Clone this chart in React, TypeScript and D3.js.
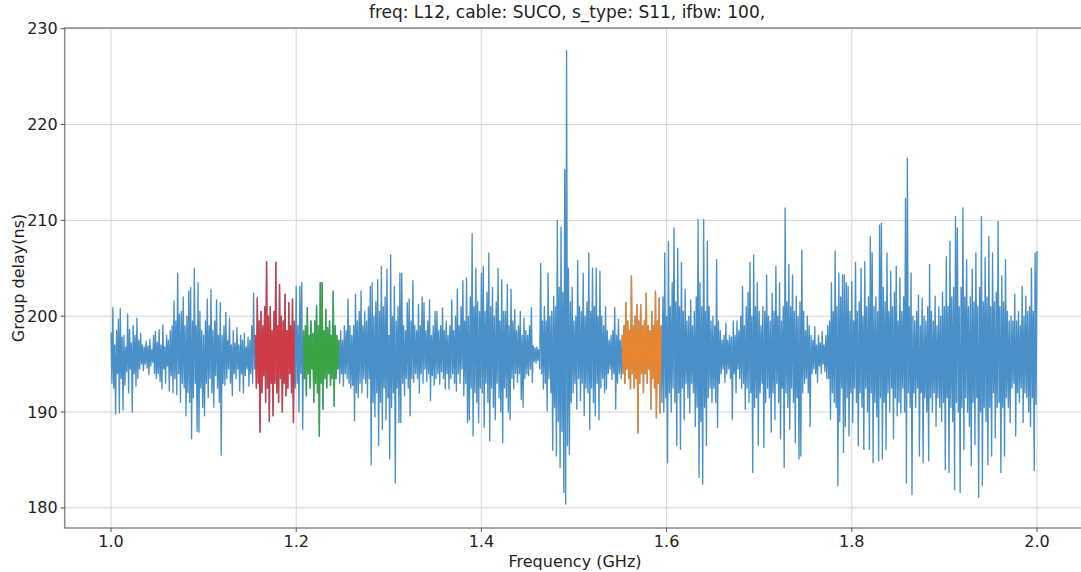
import React from "react";
import * as d3 from "d3";

// Sweep definition: 1001 points from 1.0 to 2.0 GHz
const sweepStartGHz = 1.0;
const sweepStepGHz = 0.001;

// Group delay (ns) per sweep point, split by frequency span
// 1.000 - 1.249 GHz
const delaySpanA: number[] = [
  198.3, 193.0, 200.9, 192.5, 197.0, 189.8, 198.5, 194.0, 199.7, 189.9, 200.8, 193.5, 197.8, 190.2, 198.0, 192.8, 196.8, 194.2, 200.2, 192.0, 198.6, 194.5, 197.2, 190.0, 199.0,
  194.0, 198.0, 192.7, 199.8, 193.5, 197.5, 194.5, 198.2, 195.0, 197.0, 194.3, 196.8, 195.0, 197.4, 194.6, 196.9, 193.9, 197.6, 194.8, 196.5, 195.2, 198.0, 194.0, 198.4, 193.5,
  197.3, 194.0, 198.6, 193.2, 197.0, 192.4, 199.1, 194.5, 196.8, 193.0, 198.0, 194.8, 197.5, 192.2, 198.5, 193.8, 199.0, 192.0, 201.6, 193.5, 199.5, 191.8, 204.5, 194.0, 200.2,
  191.0, 200.5, 193.0, 202.0, 192.5, 199.0, 189.6, 200.0, 192.0, 202.6, 191.0, 203.0, 187.2, 199.5, 191.5, 205.0, 193.0, 199.0, 188.0, 203.5, 187.9, 200.5, 192.5, 198.5, 190.5,
  198.0, 189.6, 199.5, 193.0, 201.8, 191.5, 199.0, 193.5, 202.8, 192.0, 198.5, 190.5, 199.5, 193.8, 201.7, 192.5, 198.0, 191.0, 201.4, 185.5, 198.0, 193.0, 199.0, 192.8, 200.4,
  193.5, 197.5, 194.5, 199.8, 193.0, 197.0, 191.7, 198.5, 194.0, 197.2, 193.5, 198.8, 194.5, 197.0, 192.2, 198.0, 194.0, 197.5, 192.0, 198.2, 193.8, 196.8, 194.5, 197.8, 192.7,
  197.5, 194.0, 199.0, 193.0, 202.4, 194.5, 198.0, 192.5, 201.9, 193.0, 199.5, 187.9, 200.5, 192.0, 199.0, 193.8, 201.0, 191.0, 205.7, 192.5, 200.0, 189.0, 201.0, 193.0, 198.5,
  189.6, 200.5, 193.0, 205.6, 192.0, 199.0, 191.0, 203.3, 193.5, 200.0, 190.0, 199.5, 193.0, 202.3, 191.7, 198.5, 192.5, 201.4, 194.0, 199.0, 192.0, 201.8, 188.9, 199.5, 192.5,
  203.1, 193.0, 199.0, 190.0, 203.1, 194.0, 203.5, 188.2, 198.5, 193.5, 199.0, 191.7, 200.9, 194.0, 198.0, 192.5, 199.5, 194.5, 198.2, 191.0, 199.5, 193.0, 201.1, 192.0, 199.0,
  187.5, 203.5, 193.0, 203.5, 190.3, 198.5, 193.5, 200.7, 192.5, 198.8, 194.0, 199.5, 192.8, 198.0, 193.5, 202.6, 190.6, 199.0, 193.5, 198.0, 194.5, 197.5, 193.0, 198.5, 194.0,
];
// 1.250 - 1.499 GHz
const delaySpanB: number[] = [
  197.5, 192.7, 199.0, 194.0, 198.5, 193.5, 201.8, 193.0, 199.0, 192.5, 198.0, 192.8, 199.0, 189.1, 202.3, 192.0, 199.5, 191.5, 200.5, 193.0, 202.6, 192.0, 199.0, 193.5, 200.5,
  193.0, 199.5, 191.5, 201.0, 193.5, 203.1, 184.5, 203.5, 191.0, 200.0, 189.5, 201.5, 192.0, 203.8, 186.5, 200.5, 191.0, 205.2, 188.2, 201.0, 192.5, 202.0, 189.2, 204.9, 191.5,
  198.0, 185.1, 206.4, 190.5, 200.0, 192.0, 203.1, 182.6, 199.5, 192.5, 201.0, 188.9, 204.5, 188.9, 204.5, 193.0, 199.0, 191.7, 198.5, 193.5, 201.4, 192.5, 201.8, 189.6, 199.5,
  193.5, 203.7, 193.1, 199.0, 194.0, 198.5, 193.5, 201.2, 192.0, 199.0, 194.0, 202.0, 193.0, 201.4, 194.5, 198.5, 193.2, 199.5, 194.0, 201.7, 191.2, 198.0, 193.8, 199.0, 192.8,
  200.5, 193.5, 200.5, 194.0, 198.5, 192.9, 199.0, 194.2, 200.9, 193.5, 198.5, 192.4, 199.5, 194.0, 198.0, 192.4, 199.0, 193.5, 201.7, 194.0, 198.5, 193.0, 200.0, 192.2, 202.8,
  194.0, 199.0, 193.0, 201.0, 194.5, 203.7, 191.7, 199.5, 193.0, 204.0, 188.9, 200.0, 189.2, 202.0, 192.5, 208.6, 187.5, 201.0, 192.0, 205.0, 191.0, 201.5, 188.9, 200.5, 192.5,
  204.5, 192.0, 205.2, 188.4, 200.5, 193.0, 202.5, 191.0, 206.6, 187.0, 201.0, 192.5, 203.0, 190.5, 200.0, 189.2, 201.5, 193.0, 205.0, 191.5, 199.5, 190.0, 203.8, 186.8, 200.5,
  192.5, 200.5, 191.5, 203.3, 190.0, 199.0, 189.2, 202.8, 193.5, 199.5, 192.4, 200.7, 194.0, 198.5, 193.1, 199.0, 194.0, 200.5, 191.3, 198.0, 190.5, 199.8, 193.5, 198.5, 194.0,
  198.0, 193.8, 199.0, 194.5, 200.9, 193.1, 196.9, 195.3, 196.7, 195.1, 196.8, 195.4, 196.5, 194.5, 205.5, 194.0, 199.5, 192.4, 201.0, 193.0, 199.5, 190.1, 204.5, 193.5, 200.0,
  192.0, 200.5, 186.0, 202.1, 190.5, 201.0, 185.4, 210.0, 189.0, 203.0, 184.2, 209.3, 188.0, 202.5, 181.6, 215.3, 180.4, 227.7, 186.5, 205.0, 185.6, 201.5, 191.0, 203.0, 192.0,
];
// 1.500 - 1.749 GHz
const delaySpanC: number[] = [
  199.5, 193.0, 200.0, 190.3, 205.8, 193.5, 201.0, 191.2, 200.5, 193.0, 204.5, 189.6, 200.0, 192.5, 201.5, 192.0, 206.6, 188.2, 200.5, 192.5, 205.0, 191.0, 201.0, 189.6, 205.0,
  193.0, 200.0, 189.2, 204.7, 192.5, 200.0, 193.5, 199.0, 192.0, 201.0, 192.4, 198.5, 194.0, 197.5, 194.5, 198.0, 193.4, 198.5, 194.0, 200.9, 190.3, 198.0, 193.0, 199.7, 194.0,
  197.5, 193.5, 198.0, 194.0, 199.0, 193.0, 201.4, 194.5, 199.5, 193.5, 198.5, 192.4, 204.2, 194.0, 199.0, 192.5, 200.0, 193.5, 201.2, 187.8, 199.5, 193.0, 201.2, 194.0, 199.0,
  192.0, 199.5, 194.0, 202.4, 193.0, 199.0, 194.5, 198.5, 190.3, 200.5, 193.5, 199.0, 192.5, 202.6, 189.4, 199.5, 193.0, 201.9, 189.9, 199.0, 191.0, 202.0, 190.0, 206.6, 191.5,
  200.0, 184.7, 207.8, 192.0, 201.0, 190.0, 203.5, 192.5, 209.2, 191.0, 201.5, 186.5, 207.1, 192.0, 201.0, 186.1, 205.6, 192.5, 200.5, 189.2, 202.8, 193.0, 199.5, 191.5, 200.0,
  189.9, 201.7, 193.0, 199.0, 192.0, 200.5, 188.5, 202.0, 190.5, 210.1, 183.2, 203.5, 189.0, 201.0, 182.5, 210.1, 190.5, 200.5, 186.5, 207.8, 191.5, 201.0, 192.5, 199.5, 191.0,
  200.0, 192.5, 199.0, 191.0, 205.9, 188.4, 199.5, 193.0, 198.5, 194.0, 197.5, 194.5, 198.0, 193.1, 199.3, 194.0, 197.5, 194.5, 198.0, 193.5, 197.8, 189.2, 199.5, 194.0, 198.0,
  192.0, 199.5, 194.5, 198.5, 193.5, 200.0, 192.5, 203.1, 193.0, 199.0, 190.3, 201.0, 192.5, 202.5, 191.0, 205.6, 192.0, 200.0, 183.7, 206.4, 190.5, 201.0, 191.5, 203.5, 186.5,
  200.5, 192.0, 199.0, 193.0, 201.0, 186.3, 200.5, 191.0, 204.3, 192.5, 200.0, 191.5, 199.5, 187.9, 202.4, 192.0, 200.5, 189.2, 205.2, 193.0, 200.0, 191.0, 203.5, 187.2, 199.5,
  192.5, 201.0, 184.2, 211.3, 192.0, 201.5, 190.5, 205.4, 188.2, 201.0, 192.5, 204.3, 191.0, 200.5, 186.8, 202.1, 191.5, 200.0, 185.1, 201.5, 185.4, 206.9, 192.0, 200.5, 193.0,
];
// 1.750 - 2.000 GHz
const delaySpanD: number[] = [
  198.5, 193.5, 200.0, 192.0, 199.0, 188.5, 198.0, 194.0, 197.5, 194.5, 198.9, 194.0, 197.0, 193.1, 198.0, 194.8, 197.2, 194.0, 198.4, 195.0, 197.0, 194.2, 198.0, 193.5, 199.0,
  193.5, 199.5, 189.2, 203.5, 192.0, 200.5, 191.0, 206.8, 190.5, 201.0, 182.3, 204.5, 189.0, 202.0, 192.5, 204.3, 185.8, 204.3, 188.5, 203.5, 191.5, 203.1, 187.5, 200.5, 192.0,
  203.6, 188.9, 199.5, 192.5, 205.6, 191.0, 200.5, 186.5, 201.5, 192.0, 205.0, 190.5, 200.0, 186.1, 205.7, 192.5, 201.0, 190.0, 202.0, 186.1, 208.3, 192.0, 206.6, 184.7, 201.0,
  191.0, 202.0, 189.5, 200.5, 184.9, 209.5, 191.5, 209.7, 185.1, 203.0, 191.0, 201.5, 186.1, 206.6, 192.0, 200.5, 190.0, 204.7, 192.5, 201.0, 187.2, 202.5, 191.5, 205.2, 189.6,
  199.5, 191.0, 204.0, 189.9, 200.5, 192.5, 202.0, 190.0, 212.3, 182.6, 216.5, 192.0, 201.0, 190.5, 204.5, 181.4, 200.0, 192.0, 199.5, 190.5, 200.5, 192.5, 202.2, 185.4, 199.0,
  192.0, 201.9, 184.7, 200.0, 191.5, 199.5, 190.0, 201.0, 184.9, 205.4, 191.5, 200.5, 190.0, 199.5, 192.0, 202.1, 188.5, 199.0, 191.5, 201.0, 190.5, 200.0, 189.0, 202.5, 191.0,
  201.0, 184.0, 206.2, 191.5, 201.0, 183.7, 207.8, 190.5, 202.0, 189.0, 203.0, 181.9, 210.4, 191.0, 209.2, 190.0, 201.0, 181.6, 203.0, 190.5, 211.3, 186.1, 202.0, 191.5, 205.9,
  190.0, 201.0, 188.5, 202.0, 184.4, 204.9, 191.0, 201.5, 186.6, 206.6, 191.5, 201.0, 181.1, 203.0, 190.0, 210.4, 182.3, 201.5, 190.5, 206.1, 189.0, 202.0, 184.5, 208.3, 190.5,
  201.0, 185.4, 206.6, 192.0, 201.5, 187.3, 202.5, 190.5, 209.9, 191.0, 201.0, 183.7, 204.2, 190.5, 201.5, 185.4, 205.9, 191.5, 200.5, 190.5, 199.5, 188.9, 200.0, 192.5, 199.5,
  193.0, 202.3, 187.5, 199.5, 192.0, 200.5, 191.0, 199.0, 192.5, 203.1, 188.9, 200.0, 192.0, 202.1, 191.5, 200.5, 190.0, 201.0, 188.5, 205.0, 191.5, 200.5, 183.9, 206.6, 190.8,
  206.8,
];

// Highlighted frequency bands (GHz) drawn over the trace
const bandStartGHz = [1.156, 1.208, 1.552];
const bandEndGHz = [1.198, 1.246, 1.594];
const bandColors = ["#cf3a44", "#3ba344", "#e8852e"];

const xTickValues = [1.0, 1.2, 1.4, 1.6, 1.8, 2.0];
const yTickValues = [180, 190, 200, 210, 220, 230];

const titleText = "freq: L12, cable: SUCO, s_type: S11, ifbw: 100,";
const xLabelText = "Frequency (GHz)";
const yLabelText = "Group delay(ns)";

const W = 1081;
const H = 572;
const plot = { left: 64.7, right: 1083.3, top: 28, bottom: 528 };
const traceColor = "#4a90c8";
const font = "'DejaVu Sans', Verdana, sans-serif";

type Pt = { f: number; v: number };

export default function App() {
  const delays = [...delaySpanA, ...delaySpanB, ...delaySpanC, ...delaySpanD];
  const points: Pt[] = delays.map((v, i) => ({
    f: sweepStartGHz + i * sweepStepGHz,
    v,
  }));

  const x = d3.scaleLinear().domain([0.95, 2.05]).range([plot.left, plot.right]);
  const y = d3.scaleLinear().domain([177.9, 230.07]).range([plot.bottom, plot.top]);

  const line = d3
    .line<Pt>()
    .x((d) => x(d.f))
    .y((d) => y(d.v));

  const idx = (f: number) => Math.round((f - sweepStartGHz) / sweepStepGHz);
  const bands = bandStartGHz.map((a, k) => ({
    color: bandColors[k],
    pts: points.slice(idx(a), idx(bandEndGHz[k]) + 1),
  }));

  return (
    <svg
      width={W}
      height={H}
      style={{ position: "absolute", left: 0, top: 0, background: "#fff" }}
      fontFamily={font}
    >
      <defs>
        <clipPath id="plot-clip">
          <rect
            x={plot.left}
            y={plot.top}
            width={plot.right - plot.left}
            height={plot.bottom - plot.top}
          />
        </clipPath>
      </defs>

      {/* grid */}
      <g stroke="#d4d4d4" strokeWidth={1}>
        {xTickValues.map((t) => (
          <line key={"gx" + t} x1={x(t)} x2={x(t)} y1={plot.top} y2={plot.bottom} />
        ))}
        {yTickValues.map((t) => (
          <line key={"gy" + t} x1={plot.left} x2={plot.right} y1={y(t)} y2={y(t)} />
        ))}
      </g>

      {/* traces */}
      <g clipPath="url(#plot-clip)" fill="none" strokeWidth={1.35} strokeLinejoin="round">
        <path d={line(points) ?? ""} stroke={traceColor} />
        {bands.map((b, k) => (
          <path key={k} d={line(b.pts) ?? ""} stroke={b.color} />
        ))}
      </g>

      {/* frame */}
      <rect
        x={plot.left}
        y={plot.top}
        width={plot.right - plot.left}
        height={plot.bottom - plot.top}
        fill="none"
        stroke="#8a8a8a"
        strokeWidth={1.5}
      />

      {/* ticks */}
      <g fontSize={16} fill="#222">
        {yTickValues.map((t) => (
          <g key={"ty" + t}>
            <line x1={plot.left - 4} x2={plot.left} y1={y(t)} y2={y(t)} stroke="#555" strokeWidth={1} />
            <text x={plot.left - 7} y={y(t)} textAnchor="end" dominantBaseline="central">
              {t}
            </text>
          </g>
        ))}
        {xTickValues.map((t) => (
          <g key={"tx" + t}>
            <line x1={x(t)} x2={x(t)} y1={plot.bottom} y2={plot.bottom + 4} stroke="#555" strokeWidth={1} />
            <text x={x(t)} y={plot.bottom + 13} textAnchor="middle" dominantBaseline="central">
              {d3.format(".1f")(t)}
            </text>
          </g>
        ))}
      </g>

      {/* labels */}
      <text x={567} y={12} fontSize={17} fill="#222" textAnchor="middle" dominantBaseline="central">
        {titleText}
      </text>
      <text
        x={575}
        y={561}
        fontSize={16}
        fill="#222"
        textAnchor="middle"
        dominantBaseline="central"
      >
        {xLabelText}
      </text>
      <text
        transform={`translate(18, ${(plot.top + plot.bottom) / 2}) rotate(-90)`}
        fontSize={16}
        fill="#222"
        textAnchor="middle"
        dominantBaseline="central"
      >
        {yLabelText}
      </text>
    </svg>
  );
}
